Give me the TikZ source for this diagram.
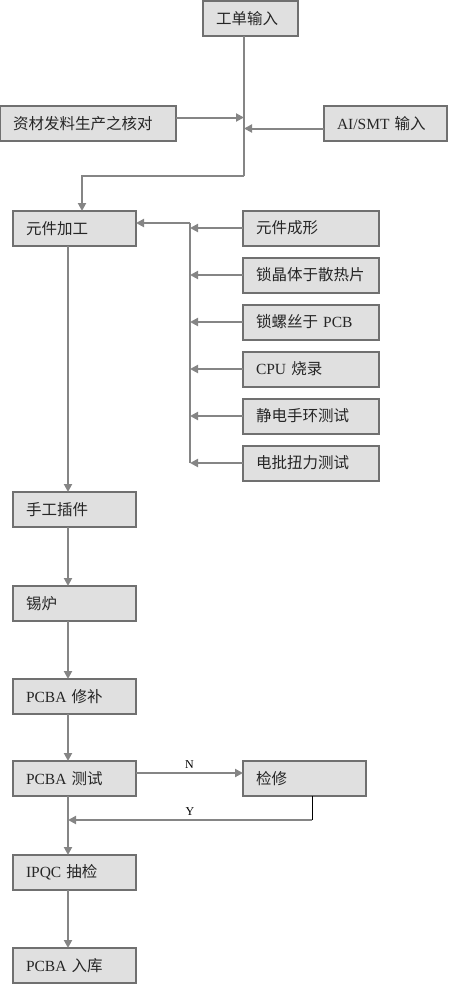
\documentclass[tikz,border=0pt]{standalone}
\usepackage{fontspec}
\setmainfont{Liberation Serif}
\newfontfamily\cjk{Noto Sans CJK SC}
\usetikzlibrary{arrows.meta,positioning}

\definecolor{boxfill}{HTML}{E0E0E0}
\definecolor{boxline}{HTML}{707070}
\definecolor{flowline}{HTML}{858585}

\newcommand{\lat}[1]{{\rmfamily #1}}

\tikzset{
  stage/.style={draw=boxline,fill=boxfill,line width=2pt,minimum height=35pt,
    inner xsep=13pt,outer sep=0pt,text width=97pt,align=left,text=black!85,
    font=\fontsize{15.5}{18}\selectfont\cjk},
  flow/.style={draw=flowline,line width=2pt},
}

\begin{document}
\begin{tikzpicture}[x=1pt,y=-1pt,>={Triangle[length=8pt,width=8pt]},node distance=12pt]

\useasboundingbox (0,0) rectangle (448,985);

\node [stage,text width=69pt] (order) at (250.5,18.5) {工单输入};
\node [stage,text width=150pt] (match) at (88,123.5) {资材发料生产之核对};
\node [stage] (smt) at (385.5,123.5) {\lat{AI/SMT} 输入};

% left column
\node [stage] (prep) at (74.5,228.5) {元件加工};
\node [stage] (hand) [below=246pt of prep] {手工插件};
\node [stage] (solder) [below=59pt of hand] {锡炉};
\node [stage] (repair) [below=58pt of solder] {\lat{PCBA} 修补};
\node [stage] (test) [below=47pt of repair] {\lat{PCBA} 测试};
\node [stage] (ipqc) [below=59pt of test] {\lat{IPQC} 抽检};
\node [stage] (store) [below=58pt of ipqc] {\lat{PCBA} 入库};

\node [stage] (fix) [right=107pt of test] {检修};

% right column
\node [stage,text width=110pt] (form) at (311,228) {元件成形};
\node [stage,text width=110pt] (xtal) [below=of form] {锁晶体于散热片};
\node [stage,text width=110pt] (screw) [below=of xtal] {锁螺丝于 \lat{PCB}};
\node [stage,text width=110pt] (cpu) [below=of screw] {\lat{CPU} 烧录};
\node [stage,text width=110pt] (esd) [below=of cpu] {静电手环测试};
\node [stage,text width=110pt] (torque) [below=of esd] {电批扭力测试};

\coordinate (trunk) at (244,176);
\coordinate (bus) at (190,223);
\coordinate (spine) at (68,0);
\coordinate (back) at (312,820);

\path [flow]
	([xshift=-6.5pt]order.south) -- (trunk)
;
\draw [flow,->] (trunk) -| ([xshift=7.5pt]prep.north);
\draw [flow,->] ([yshift=6pt]match.east) -- ([yshift=6pt]match.east -| trunk);
\draw [flow,->] ([yshift=-5pt]smt.west) -- ([yshift=-5pt]smt.west -| trunk);

\draw [flow,->] (bus) -- (bus -| prep.east);
\draw [flow] (bus) -- (bus |- torque.west);
\foreach \n in {form,xtal,screw,cpu,esd,torque}
	\draw [flow,->] (\n.west) -- (\n.west -| bus);

\foreach \a/\b in {prep/hand,hand/solder,solder/repair,repair/test,test/ipqc,ipqc/store}
	\draw [flow,->] (\a.south -| spine) -- (\b.north -| spine);

\draw [flow,->] ([yshift=5.5pt]test.east) --
	node [above,font=\fontsize{12}{14}\selectfont] {N} ([yshift=5.5pt]test.east -| fix.west);
\draw [black,line width=1pt] ([xshift=7.5pt]fix.south) -- (back);
\draw [flow,->] (back) --
	node [above,font=\fontsize{12}{14}\selectfont] {Y} (back -| spine);

\end{tikzpicture}
\end{document}
